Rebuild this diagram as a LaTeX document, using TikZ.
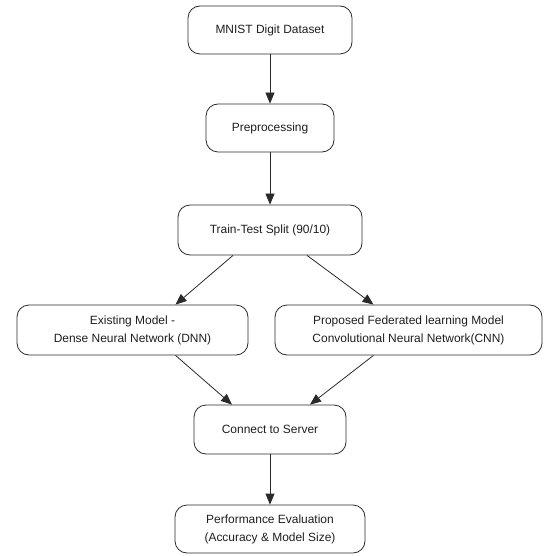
\documentclass[tikz,border=0pt]{standalone}
\usepackage{fontspec}
\setmainfont{Liberation Sans}
\usepackage{xcolor}
\usepackage{tikz}
\usetikzlibrary{arrows.meta,positioning}
\definecolor{edge}{HTML}{2A2A2A}
\definecolor{ink}{HTML}{1E1E1E}
\tikzset{
  stepbox/.style={draw=edge,line width=.8pt,rounded corners=12bp,align=center,
    text=ink,font=\fontsize{12}{18}\selectfont,inner sep=0pt},
  flow/.style={-{Triangle[length=11bp,width=9bp]},draw=edge,line width=.8pt}
}

\begin{document}
\begin{tikzpicture}[x=1bp,y=1bp]
  \useasboundingbox (0,0) rectangle (544,-556);
  \node[stepbox,minimum width=164bp,minimum height=48bp] (data) at (270,-30) {MNIST Digit Dataset};
  \node[stepbox,minimum width=128bp,minimum height=48bp] (prep) at (270,-128) {Preprocessing};
  \node[stepbox,minimum width=184bp,minimum height=50bp] (split) at (270,-230) {Train-Test Split (90/10)};
  \node[stepbox,minimum width=231bp,minimum height=50bp] (dnn) at (132.5,-330) {Existing Model -\\Dense Neural Network (DNN)};
  \node[stepbox,minimum width=267bp,minimum height=50bp] (cnn) at (408.5,-330) {Proposed Federated learning Model\\Convolutional Neural Network(CNN)};
  \node[stepbox,minimum width=152bp,minimum height=49bp] (server) at (270,-429.5) {Connect to Server};
  \node[stepbox,minimum width=190bp,minimum height=48bp] (eval) at (270,-529) {Performance Evaluation\\(Accuracy \& Model Size)};
  \draw[flow] (data) -- (prep);
  \draw[flow] (prep) -- (split);
  \draw[flow] ([xshift=-37bp]split.south) -- ([xshift=43bp]dnn.north);
  \draw[flow] ([xshift=37bp]split.south) -- ([xshift=-35bp]cnn.north);
  \draw[flow] ([xshift=43bp]dnn.south) -- ([xshift=-38bp]server.north);
  \draw[flow] ([xshift=-35bp]cnn.south) -- ([xshift=40bp]server.north);
  \draw[flow] (server) -- (eval);
\end{tikzpicture}
\end{document}
